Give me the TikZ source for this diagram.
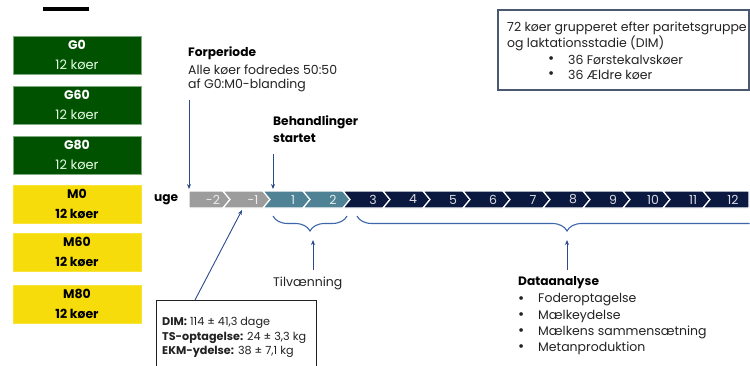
\documentclass[tikz,border=0pt]{standalone}
\usepackage{fontspec}
\setmainfont{Poppins}
\usetikzlibrary{decorations.pathreplacing,arrows.meta}
\definecolor{gGreen}{HTML}{005200}
\definecolor{gEdge}{HTML}{7FA97F}
\definecolor{mYellow}{HTML}{F6DC0A}
\definecolor{cGray}{HTML}{9C9C9C}
\definecolor{cTeal}{HTML}{4E8294}
\definecolor{cNavy}{HTML}{0B1840}
\definecolor{arr}{HTML}{2B4A8C}
\definecolor{brc}{HTML}{3D66AA}
\definecolor{txt}{HTML}{222222}
\definecolor{boxedge}{HTML}{4A5870}
\tikzset{
  gbox/.style={fill=gGreen, draw=gEdge, line width=0.6, minimum width=128, minimum height=38, inner sep=0},
  mbox/.style={fill=mYellow, draw=mYellow!80!white, line width=0.6, minimum width=128, minimum height=38, inner sep=0},
  gtitle/.style={text=white, font=\fontsize{12.5}{14}\selectfont\bfseries, inner sep=0},
  gsub/.style={text=white!90!green, font=\fontsize{13}{14}\selectfont, inner sep=0},
  mtitle/.style={text=black, font=\fontsize{12.5}{14}\selectfont\bfseries, inner sep=0},
  msub/.style={text=black, font=\fontsize{12.5}{14}\selectfont\bfseries, inner sep=0},
  lbl/.style={text=txt, font=\fontsize{12.5}{14}\selectfont, inner sep=0, anchor=west},
  bul/.style={text=txt, font=\fontsize{15}{14}\selectfont, inner sep=0, anchor=west},
  lblb/.style={text=black, font=\fontsize{12.2}{14}\selectfont\bfseries, inner sep=0, anchor=west},
  small/.style={text=txt, font=\fontsize{11.2}{13}\selectfont, inner sep=0, anchor=west},
  chevlab/.style={font=\fontsize{12.5}{14}\selectfont, inner sep=0},
  pointer/.style={draw=arr, line width=0.9, -{Stealth[length=5pt,width=4pt]}},
  bracestyle/.style={draw=brc, line width=1.1, decorate, decoration={brace,mirror,amplitude=15}},
}
\begin{document}
\begin{tikzpicture}[x=1pt,y=-1pt]
\useasboundingbox (0,0) rectangle (750,365);

% black bar
\fill[black] (43,7) rectangle (89,11);

% group boxes
\node[gbox] (g0) at (77,55) {};
\node[gtitle] (g0t) at (77,45) {G0};
\node[gsub] (g0s) at (77,65) {12 køer};
\node[gbox] (g60) at (77,105) {};
\node[gtitle] (g60t) at (77,95) {G60};
\node[gsub] (g60s) at (77,115) {12 køer};
\node[gbox] (g80) at (77,155) {};
\node[gtitle] (g80t) at (77,145) {G80};
\node[gsub] (g80s) at (77,165) {12 køer};
\node[mbox] (m0) at (77,204) {};
\node[mtitle] (m0t) at (77,194) {M0};
\node[msub] (m0s) at (77,214) {12 køer};
\node[mbox] (m60) at (77,252) {};
\node[mtitle] (m60t) at (77,242) {M60};
\node[msub] (m60s) at (77,262) {12 køer};
\node[mbox] (m80) at (77,304) {};
\node[mtitle] (m80t) at (77,294) {M80};
\node[msub] (m80s) at (77,314) {12 køer};

% uge
\node[lblb] (uge) at (154,199.5) {uge};

% chevrons
\foreach \lab [count=\i from 0] in {-2,-1,1,2,3,4,5,6,7,8,9,10,11,12}{
  \pgfmathsetmacro\tR{230+40*\i}
  \pgfmathsetmacro\tL{190+40*\i}
  \ifnum\i<2 \def\cc{cGray}\def\tc{white!85!gray}\else\ifnum\i<4 \def\cc{cTeal}\def\tc{white!85!cTeal}\else \def\cc{cNavy}\def\tc{white!85!cNavy}\fi\fi
  \ifnum\i=0
    \path[fill=\cc,draw=white,line width=1.2] (189,191) -- (\tR-7,191) -- (\tR,199.5) -- (\tR-7,208) -- (189,208) -- cycle;
  \else\ifnum\i=13
    \path[fill=\cc,draw=white,line width=1.2] (\tL-7,191) -- (749,191) -- (749,208) -- (\tL-7,208) -- (\tL,199.5) -- cycle;
  \else
    \path[fill=\cc,draw=white,line width=1.2] (\tL-7,191) -- (\tR-7,191) -- (\tR,199.5) -- (\tR-7,208) -- (\tL-7,208) -- (\tL,199.5) -- cycle;
  \fi\fi
  \node[chevlab,text=\tc] (w\i) at (213+40*\i,199.5) {\lab};
}

% Forperiode
\node[lblb] (fp1) at (188,53) {Forperiode};
\node[lbl] (fp2) at (188,69.5) {Alle køer fodredes 50:50};
\node[lbl] (fp3) at (188,85) {af G0:M0-blanding};
\coordinate (fpS) at (189,100);
\coordinate (fpE) at (189,189);
\draw[pointer] (fpS) -- (fpE);

% Behandlinger
\node[lblb] (bh1) at (273,122) {Behandlinger};
\node[lblb] (bh2) at (273,138) {startet};
\coordinate (bhS) at (273,154);
\coordinate (bhE) at (273,189);
\draw[pointer] (bhS) -- (bhE);

% braces
\coordinate (b1L) at (273,216);
\coordinate (b1R) at (347,216);
\draw[bracestyle] (b1L) -- (b1R);
\begin{scope}
\clip (350,205) rectangle (749.5,240);
\coordinate (b2L) at (357,216);
\coordinate (b2R) at (777,216);
\draw[bracestyle] (b2L) -- (b2R);
\end{scope}

% Tilvaenning
\node[lbl] (tv) at (273,283) {Tilvænning};
\coordinate (tvS) at (313,270);
\coordinate (tvE) at (313,240);
\draw[pointer] (tvS) -- (tvE);

% Dataanalyse
\node[lblb] (da) at (518,283) {Dataanalyse};
\coordinate (daS) at (567,270);
\coordinate (daE) at (567,240);
\draw[pointer] (daS) -- (daE);
\foreach \t [count=\k from 0] in {Foderoptagelse,Mælkeydelse,Mælkens sammensætning,Metanproduktion}{
  \node[bul] (dab\k) at (518,300+16*\k) {•};
  \node[lbl] (dat\k) at (538,300+16*\k) {\t};
}

% top right box
\node[draw=boxedge, line width=1.2, minimum width=251, minimum height=80, inner sep=0] (grp) at (623.5,50) {};
\node[lbl] (gr1) at (507,28) {72 køer grupperet efter paritetsgruppe};
\node[lbl] (gr2) at (507,43.5) {og laktationsstadie (DIM)};
\node[bul] (gr3b) at (548,60) {•};
\node[lbl] (gr3) at (568,60) {36 Førstekalvskøer};
\node[bul] (gr4b) at (548,75) {•};
\node[lbl] (gr4) at (568,75) {36 Ældre køer};

% DIM box
\draw[draw=txt, line width=1] (156,370) -- (156,300) -- (316,300) -- (316,370);
\node[small] (d1) at (162,323) {\textbf{DIM:} 114 ± 41,3 dage};
\node[small] (d2) at (162,337.5) {\textbf{TS-optagelse:} 24 ± 3,3 kg};
\node[small] (d3) at (162,352) {\textbf{EKM-ydelse:} 38 ± 7,1 kg};
\coordinate (dimTop) at (195,300);
\coordinate (dimE) at (242,210);
\draw[pointer] (dimTop) -- (dimE);
\end{tikzpicture}
\end{document}
